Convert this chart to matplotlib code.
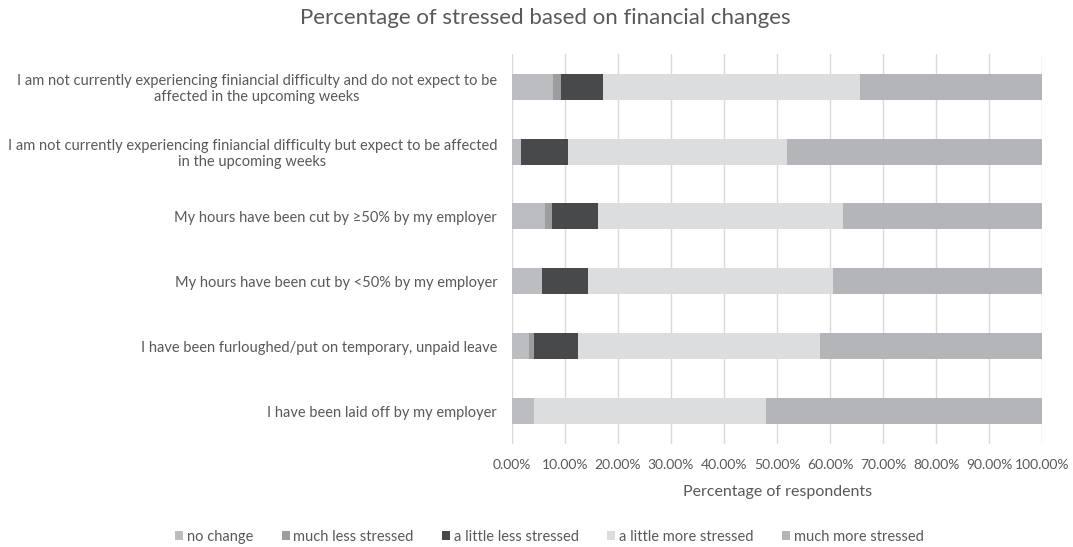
import numpy as np
import matplotlib
matplotlib.use("Agg")
import matplotlib.pyplot as plt
from matplotlib.ticker import FuncFormatter

plt.rcParams["font.family"] = ["Lato", "DejaVu Sans"]

# Survey responses, share of respondents (%) per stress level
categories = [
    "I am not currently experiencing finiancial difficulty and do not expect to be\naffected in the upcoming weeks",
    "I am not currently experiencing finiancial difficulty but expect to be affected\nin the upcoming weeks",
    "My hours have been cut by \u226550% by my employer",
    "My hours have been cut by <50% by my employer",
    "I have been furloughed/put on temporary, unpaid leave",
    "I have been laid off by my employer",
]
no_change = [7.8, 1.8, 6.3, 5.7, 3.2, 4.2]
much_less = [1.5, 0.0, 1.2, 0.0, 1.0, 0.0]
little_less = [7.8, 8.8, 8.7, 8.7, 8.3, 0.0]
little_more = [48.6, 41.2, 46.3, 46.2, 45.5, 43.7]
much_more = [34.3, 48.2, 37.5, 39.4, 42.0, 52.1]

series = [
    ("no change", no_change, "#BCBDC0"),
    ("much less stressed", much_less, "#9C9D9F"),
    ("a little less stressed", little_less, "#48494B"),
    ("a little more stressed", little_more, "#DCDDDF"),
    ("much more stressed", much_more, "#B4B5B8"),
]

text_color = "#595959"

fig = plt.figure(figsize=(10.73, 5.47), dpi=100)
ax = fig.add_axes([0.477, 0.189, 0.4945, 0.712])

y = np.arange(len(categories))
left = np.zeros(len(categories))
for name, vals, color in series:
    vals = np.array(vals)
    ax.barh(y, vals, left=left, height=0.4, color=color, label=name, zorder=3)
    left += vals

ax.set_ylim(len(categories) - 0.5, -0.5)
ax.set_xlim(0, 100)
ax.set_xticks(np.arange(0, 101, 10))
ax.xaxis.set_major_formatter(FuncFormatter(lambda v, p: f"{v:.2f}%"))
ax.set_yticks(y)
ax.set_yticklabels(categories, ha="right", multialignment="center")
ax.tick_params(axis="y", pad=10.5, length=0, labelsize=10.5, colors=text_color)
ax.tick_params(axis="x", length=0, labelsize=10, colors=text_color, pad=11)

ax.grid(axis="x", color="#D9D9D9", linewidth=1, zorder=0)
for s in ax.spines.values():
    s.set_visible(False)

ax.set_xlabel("Percentage of respondents", fontsize=11.5, color=text_color, labelpad=10)
fig.suptitle("Percentage of stressed based on financial changes",
             fontsize=16, color=text_color, x=0.508, y=0.985)

fig.legend(loc="lower center", bbox_to_anchor=(0.512, -0.018), ncol=5, frameon=False,
           fontsize=10.5, labelcolor=text_color, handlelength=0.55, handleheight=0.55,
           handletextpad=0.25, columnspacing=1.95)

fig.savefig("out.png", dpi=100)
